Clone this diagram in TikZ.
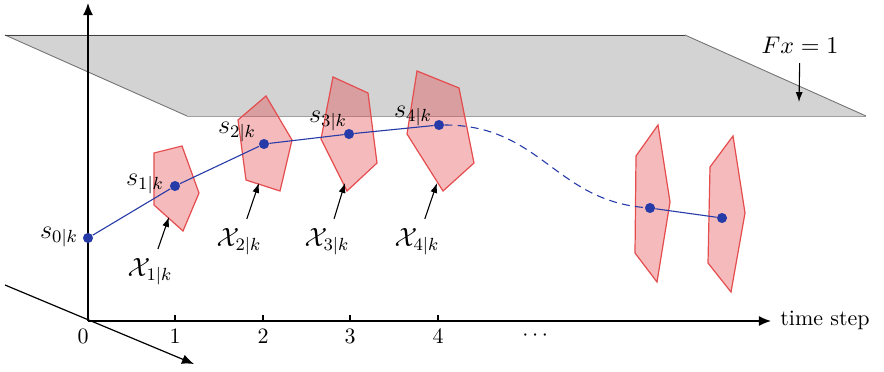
\documentclass[tikz,border=0pt]{standalone}
\usepackage{amsmath}
\usepackage{amssymb}
\usepackage{xcolor}
\usetikzlibrary{arrows.meta}

\definecolor{setred}{RGB}{228,76,78}
\definecolor{trajblue}{RGB}{38,58,168}
\definecolor{planegray}{RGB}{211,211,211}

\tikzset{
  setpoly/.style={draw=setred, line width=0.55pt, fill=setred, fill opacity=0.38},
  statedot/.style={circle, fill=trajblue, inner sep=0pt, minimum size=4.6pt},
  traj/.style={trajblue, line width=0.5pt},
  axisline/.style={line width=0.55pt, -{Latex[length=5.5pt,width=4.5pt]}},
  lblarrow/.style={line width=0.5pt, -{Latex[length=4.5pt,width=3.2pt]}, shorten <=1pt},
  mathlbl/.style={font=\fontsize{11.5pt}{14pt}\selectfont},
}

\begin{document}
\begin{tikzpicture}[x=0.016cm, y=-0.016cm]
\useasboundingbox (0,0) rectangle (884,372);

% constraint plane
\fill[planegray] (5,35) -- (685,35) -- (866,116) -- (187,116) -- cycle;
\draw[gray!75] (187,116) -- (866,116);
\draw[gray!90!black] (5,35) -- (187,116);
\draw[gray!90!black] (685,35) -- (866,116);
\draw[black!75] (5,35) -- (685,35);

% axes
\coordinate (O) at (88,321);
\coordinate (ytop) at (88,3);
\coordinate (tend) at (771,321);
\coordinate (dstart) at (5,285);
\coordinate (dend) at (194,364);
\draw[axisline] (O) -- (ytop);
\draw[line width=1.2pt] (88,35) -- (88,116);
\draw[axisline] (O) -- (tend);
\draw[axisline] (dstart) -- (dend);
\node (tstep) at (825,320) {time step};

% ticks
\draw[line width=0.5pt] (175,321) -- (175,315);
\draw[line width=0.5pt] (263,321) -- (263,315);
\draw[line width=0.5pt] (350,321) -- (350,315);
\draw[line width=0.5pt] (438,321) -- (438,315);
\node (t0) at (83,336) {$0$};
\node (t1) at (175,336) {$1$};
\node (t2) at (263,336) {$2$};
\node (t3) at (350,336) {$3$};
\node (t4) at (438,336) {$4$};
\node (tdots) at (537,336) {$\cdots$};

% sets
\draw[setpoly] (154,153) -- (182,146) -- (199,193) -- (183,231) -- (154,205) -- cycle;
\draw[setpoly] (266,96) -- (292,140) -- (280,191) -- (246,180) -- (238,120) -- cycle;
\draw[setpoly] (333,77) -- (368,93) -- (377,163) -- (347,191) -- (321,139) -- cycle;
\draw[setpoly] (417,71) -- (459,88) -- (474,163) -- (443,191) -- (407,134) -- cycle;
\draw[setpoly] (658,125) -- (670,202) -- (657,282) -- (635,253) -- (636,156) -- cycle;
\draw[setpoly] (733,136) -- (745,213) -- (731,292) -- (708,263) -- (710,167) -- cycle;

% predicted states
\node[statedot] (s0) at (88,238) {};
\node[statedot] (s1) at (175,186) {};
\node[statedot] (s2) at (264,144) {};
\node[statedot] (s3) at (349,134) {};
\node[statedot] (s4) at (439,125) {};
\node[statedot] (s5) at (650,208) {};
\node[statedot] (s6) at (722,218) {};
\draw[traj] (s0) -- (s1) -- (s2) -- (s3) -- (s4);
\draw[traj, dash pattern=on 3.6pt off 2.4pt] (s4) .. controls (540,125) and (555,200) .. (s5);
\draw[traj] (s5) -- (s6);

\node[mathlbl] (ls0) at (59,237) {$s_{0|k}$};
\node[mathlbl] (ls1) at (145,184) {$s_{1|k}$};
\node[mathlbl] (ls2) at (237,132) {$s_{2|k}$};
\node[mathlbl] (ls3) at (328,121) {$s_{3|k}$};
\node[mathlbl] (ls4) at (413,116) {$s_{4|k}$};

% set labels
\node[mathlbl] (X1) at (150,272) {$\mathcal{X}_{1|k}$};
\node[mathlbl] (X2) at (239,242) {$\mathcal{X}_{2|k}$};
\node[mathlbl] (X3) at (327,242) {$\mathcal{X}_{3|k}$};
\node[mathlbl] (X4) at (417,242) {$\mathcal{X}_{4|k}$};
\coordinate (c1) at (169,217);
\coordinate (c2) at (259,183);
\coordinate (c3) at (345,183);
\coordinate (c4) at (437,183);
\draw[lblarrow] (X1) -- (c1);
\draw[lblarrow] (X2) -- (c2);
\draw[lblarrow] (X3) -- (c3);
\draw[lblarrow] (X4) -- (c4);

% plane label
\node[font=\fontsize{11pt}{13pt}\selectfont] (Fx) at (800,45) {$Fx=1$};
\coordinate (fxend) at (799,102);
\draw[lblarrow] (Fx) -- (fxend);
\end{tikzpicture}
\end{document}
